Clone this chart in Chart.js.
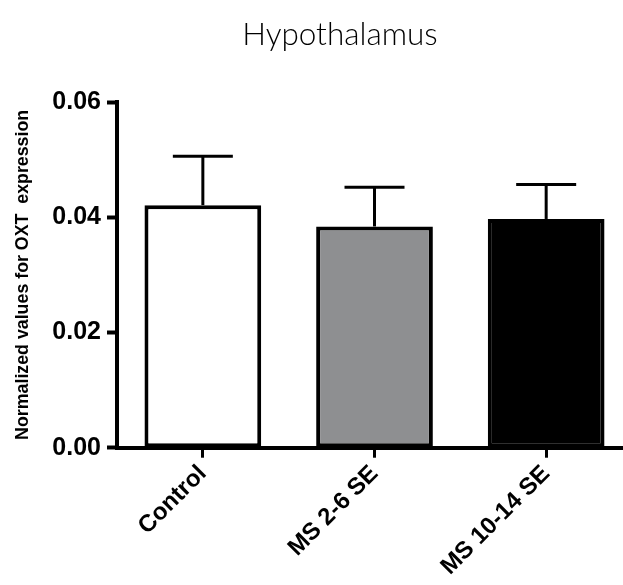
<!DOCTYPE html>
<html lang="en">
<head>
    <meta charset="UTF-8">
    <title>Hypothalamus</title>
    <script src="https://cdn.jsdelivr.net/npm/chart.js"></script>
    <style>
        body { margin: 0; background: #fff; overflow: hidden; }
        /* the x axis runs off the right edge in the original, so the canvas is a bit wider than the window */
        .chart-box { width: 632px; height: 585px; }
    </style>
</head>
<body>
    <div class="chart-box">
        <canvas id="barChart"></canvas>
    </div>

    <script>
        // data
        const groups = ['Control', 'MS 2-6 SE', 'MS 10-14 SE'];
        const meanValues = [0.0421, 0.0384, 0.0397];
        const semValues = [0.0085, 0.0068, 0.0060];
        const fillColors = ['#ffffff', '#8e8f91', '#000000'];
        const yTicks = [0.00, 0.02, 0.04, 0.06];
        const chartTitle = 'Hypothalamus';
        const yTitle = 'Normalized values for OXT  expression';

        // upper error bars, drawn with the scales of the chart
        const errorBars = {
            id: 'errorBars',
            afterDatasetsDraw(chart) {
                const ctx = chart.ctx;
                const x = chart.scales.x;
                const y = chart.scales.y;
                ctx.save();
                ctx.strokeStyle = '#000';
                ctx.lineCap = 'butt';
                meanValues.forEach((v, i) => {
                    const cx = x.getPixelForValue(i);
                    const top = y.getPixelForValue(v + semValues[i]);
                    const base = y.getPixelForValue(v);
                    ctx.lineWidth = 3;
                    ctx.beginPath();
                    ctx.moveTo(cx, base);
                    ctx.lineTo(cx, top);
                    ctx.stroke();
                    ctx.beginPath();
                    ctx.moveTo(cx - 30, top);
                    ctx.lineTo(cx + 30, top);
                    ctx.stroke();
                });
                ctx.restore();
            }
        };

        // title sits a bit right of the canvas centre in the original
        const titleText = {
            id: 'titleText',
            afterDraw(chart) {
                const ctx = chart.ctx;
                ctx.save();
                ctx.fillStyle = '#000';
                ctx.font = '300 31.5px Lato';
                ctx.textAlign = 'center';
                ctx.textBaseline = 'middle';
                ctx.fillText(chartTitle, 340, 35);
                ctx.restore();
            }
        };

        const ctx = document.getElementById('barChart').getContext('2d');
        new Chart(ctx, {
            type: 'bar',
            data: {
                labels: groups,
                datasets: [{
                    data: meanValues,
                    backgroundColor: fillColors,
                    borderColor: '#000',
                    borderWidth: 4,
                    borderSkipped: false,
                    categoryPercentage: 1,
                    barPercentage: 0.68
                }]
            },
            options: {
                responsive: true,
                maintainAspectRatio: false,
                animation: false,
                layout: {
                    padding: { top: 102, right: 0, left: 12, bottom: 2 }
                },
                plugins: {
                    legend: { display: false },
                    tooltip: { enabled: false }
                },
                scales: {
                    x: {
                        offset: true,
                        grid: {
                            offset: false,
                            drawOnChartArea: false,
                            tickLength: 10,
                            tickWidth: 3,
                            tickColor: '#000'
                        },
                        border: { color: '#000', width: 4 },
                        ticks: {
                            color: '#000',
                            maxRotation: 45,
                            minRotation: 45,
                            padding: 2,
                            font: { family: 'Liberation Sans', weight: 'bold', size: 24 }
                        }
                    },
                    y: {
                        min: 0,
                        max: 0.06,
                        afterBuildTicks(scale) {
                            scale.ticks = yTicks.map(v => ({ value: v }));
                        },
                        grid: {
                            drawOnChartArea: false,
                            tickLength: 10,
                            tickWidth: 4,
                            tickColor: '#000'
                        },
                        border: { color: '#000', width: 4 },
                        ticks: {
                            color: '#000',
                            padding: 6,
                            font: { family: 'Liberation Sans', weight: 'bold', size: 25 },
                            callback: v => v.toFixed(2)
                        },
                        title: {
                            display: true,
                            text: yTitle,
                            color: '#000',
                            padding: { top: 0, bottom: 13 },
                            font: { family: 'Liberation Sans', weight: 'bold', size: 17.8 }
                        }
                    }
                }
            },
            plugins: [errorBars, titleText]
        });
    </script>
</body>
</html>
